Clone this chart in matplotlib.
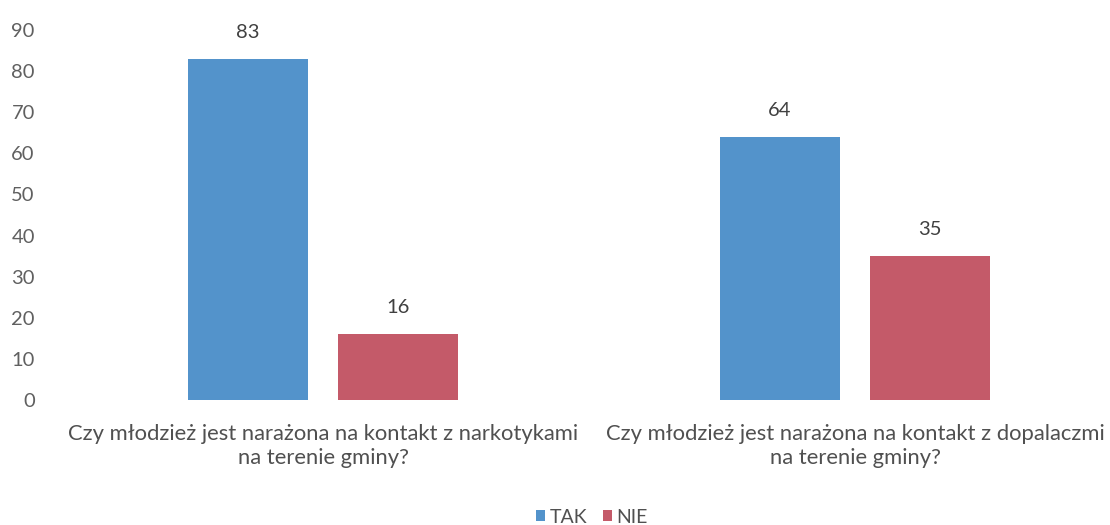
import matplotlib
matplotlib.use('Agg')
import matplotlib.pyplot as plt
import numpy as np

categories = ['Czy młodzież jest narażona na kontakt z narkotykami\nna terenie gminy?',
              'Czy młodzież jest narażona na kontakt z dopalaczmi\nna terenie gminy?']
series_names = ['TAK', 'NIE']
tak = [83, 64]
nie = [16, 35]
yticks = [0, 10, 20, 30, 40, 50, 60, 70, 80, 90]

plt.rcParams['font.family'] = ['Lato', 'DejaVu Sans']

fig = plt.figure(figsize=(11.1, 5.25), dpi=100)
ax = fig.add_axes([57 / 1110, 125 / 525, 1040 / 1110, 370 / 525])

x = np.arange(len(categories))
w = 0.226
off = 0.141
b1 = ax.bar(x - off, tak, w, color='#5393cb', label=series_names[0])
b2 = ax.bar(x + off, nie, w, color='#c45a69', label=series_names[1])

for bars in (b1, b2):
    for r in bars:
        ax.annotate(str(int(r.get_height())), (r.get_x() + r.get_width() / 2, r.get_height()),
                    xytext=(0, 13), textcoords='offset points', ha='center', va='bottom',
                    fontsize=14.5, color='#404040')

ax.set_xlim(-0.5, -0.5 + 1040 / 532)
ax.set_ylim(0, 90)
ax.set_yticks(yticks)
ax.set_xticks(x)
ax.set_xticklabels(categories, fontsize=15.8, color='#505050', linespacing=1.25)
ax.tick_params(axis='y', length=0, pad=16, labelsize=14.5, labelcolor='#606060')
ax.tick_params(axis='x', length=0, pad=17)
for s in ax.spines.values():
    s.set_visible(False)

fig.legend(handles=[b1, b2], loc='center', bbox_to_anchor=(0.533, 0.015), ncol=2, frameon=False,
           fontsize=14, handlelength=0.5, handleheight=0.5, handletextpad=0.2, columnspacing=0.8,
           labelcolor='#505050')

fig.savefig('out.png', dpi=100)
